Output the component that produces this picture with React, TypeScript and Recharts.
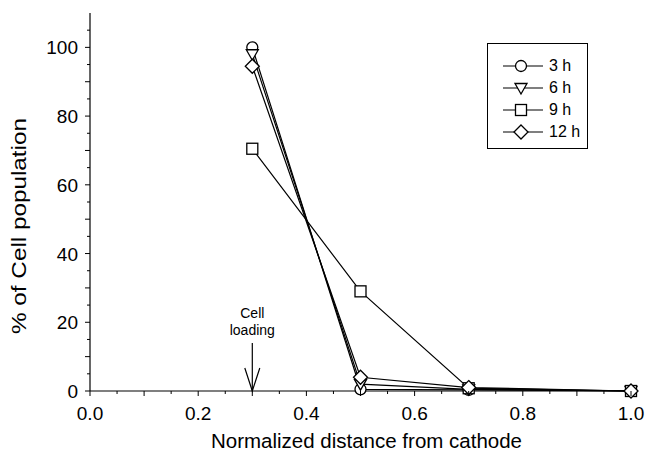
import React from "react";
import {
  LineChart,
  Line,
  XAxis,
  YAxis,
  ReferenceDot,
  Legend,
} from "recharts";

// distances from cathode (normalized) and % of cell population per time point
const distances = [0.3, 0.5, 0.7, 1.0];
const pct3h = [100, 0.5, 0.3, 0];
const pct6h = [98, 2, 0.5, 0];
const pct9h = [70.5, 29, 0.8, 0];
const pct12h = [94.5, 4, 1, 0];

const seriesNames = ["3 h", "6 h", "9 h", "12 h"];
const markerKinds = ["circle", "triangle", "square", "diamond"];

const xTicks = Array.from({ length: 21 }, (_, i) => Math.round(i * 5) / 100);
const yTicks = Array.from({ length: 22 }, (_, i) => i * 5);

const data = distances.map((d, i) => ({
  x: d,
  h3: pct3h[i],
  h6: pct6h[i],
  h9: pct9h[i],
  h12: pct12h[i],
}));

const FONT = "'Liberation Sans', Arial, sans-serif";

function Marker({ kind, cx, cy }: { kind: string; cx: number; cy: number }) {
  const st = { fill: "#fff", stroke: "#000", strokeWidth: 1.3 };
  if (kind === "circle") return <circle cx={cx} cy={cy} r={5.5} {...st} />;
  if (kind === "square")
    return <rect x={cx - 5.5} y={cy - 5.5} width={11} height={11} {...st} />;
  if (kind === "triangle")
    return (
      <path d={`M${cx - 6},${cy - 4.5} L${cx + 6},${cy - 4.5} L${cx},${cy + 6} Z`} {...st} />
    );
  return (
    <path d={`M${cx},${cy - 7} L${cx + 7},${cy} L${cx},${cy + 7} L${cx - 7},${cy} Z`} {...st} />
  );
}

function dotFor(kind: string) {
  return (p: any) => <Marker key={`${kind}-${p.index}`} kind={kind} cx={p.cx} cy={p.cy} />;
}

function XTick(props: any) {
  const { x, y, payload } = props;
  const v = Math.round(payload.value * 100);
  const major = v % 10 === 0;
  const labeled = v % 20 === 0;
  return (
    <g>
      <line x1={x} x2={x} y1={y} y2={y + (major ? 5 : 3)} stroke="#000" />
      {labeled && (
        <text x={x} y={y + 29} textAnchor="middle" fontSize={19} fontFamily={FONT} fill="#000">
          {(v / 100).toFixed(1)}
        </text>
      )}
    </g>
  );
}

function YTick(props: any) {
  const { x, y, payload } = props;
  const v = payload.value;
  const major = v % 10 === 0;
  const labeled = v % 20 === 0 && v <= 100;
  return (
    <g>
      <line x1={x - (major ? 5 : 3)} x2={x} y1={y} y2={y} stroke="#000" />
      {labeled && (
        <text x={x - 12} y={y + 7} textAnchor="end" fontSize={19} fontFamily={FONT} fill="#000">
          {v}
        </text>
      )}
    </g>
  );
}

function XTitle(props: any) {
  const vb = props.viewBox || { x: 0, width: 0 };
  return (
    <text x={vb.x + vb.width / 2 + 6} y={448} textAnchor="middle" fontSize={20.5} fontFamily={FONT} fill="#000">
      Normalized distance from cathode
    </text>
  );
}

function YTitle(props: any) {
  const vb = props.viewBox || { y: 0, height: 0 };
  const cy = vb.y + vb.height / 2 + 24;
  return (
    <text
      x={26}
      y={cy}
      transform={`rotate(-90, 26, ${cy})`}
      textAnchor="middle"
      fontSize={20}
      fontFamily={FONT}
      fill="#000"
      textLength={216}
      lengthAdjust="spacingAndGlyphs"
    >
      % of Cell population
    </text>
  );
}

function LegendBox() {
  return (
    <div
      style={{
        border: "1px solid #000",
        background: "#fff",
        width: 101,
        padding: "11px 0 5px 0",
        boxSizing: "border-box",
      }}
    >
      {seriesNames.map((n, i) => (
        <div key={n} style={{ display: "flex", alignItems: "center", height: 22 }}>
          <svg width={61} height={16} style={{ display: "block" }}>
            <line x1={15} x2={55} y1={8} y2={8} stroke="#000" strokeWidth={1.2} />
            <Marker kind={markerKinds[i]} cx={33} cy={8} />
          </svg>
          <span style={{ fontFamily: FONT, fontSize: 16, color: "#000" }}>{n}</span>
        </div>
      ))}
    </div>
  );
}

function LoadingArrow(props: any) {
  const { cx, cy } = props;
  return (
    <g>
      <line x1={cx} x2={cx} y1={cy - 48} y2={cy} stroke="#000" strokeWidth={1.2} />
      <path d={`M${cx - 7.5},${cy - 23} L${cx},${cy} L${cx + 7.5},${cy - 23}`} fill="none" stroke="#000" strokeWidth={1.2} />
      <text x={cx} y={cy - 73} textAnchor="middle" fontSize={14} fontFamily={FONT} fill="#000">
        Cell
      </text>
      <text x={cx} y={cy - 56} textAnchor="middle" fontSize={14} fontFamily={FONT} fill="#000">
        loading
      </text>
    </g>
  );
}

export default function App() {
  const keys = ["h3", "h6", "h9", "h12"];
  return (
    <div style={{ position: "absolute", left: 0, top: 0, background: "#fff" }}>
      <LineChart
        width={646}
        height={455}
        data={data}
        margin={{ top: 13, right: 15, bottom: 34, left: 50 }}
      >
        <XAxis
          dataKey="x"
          type="number"
          domain={[0, 1]}
          ticks={xTicks}
          interval={0}
          tick={<XTick />}
          tickLine={false}
          tickSize={0}
          tickMargin={0}
          axisLine={{ stroke: "#000", strokeWidth: 1.2 }}
          height={30}
          label={<XTitle />}
        />
        <XAxis xAxisId="top" orientation="top" dataKey="x" type="number" domain={[0, 1]} tick={false} tickLine={false} height={0} axisLine={{ stroke: "#000", strokeWidth: 1.2 }} />
        <YAxis
          type="number"
          domain={[0, 110]}
          ticks={yTicks}
          interval={0}
          tick={<YTick />}
          tickLine={false}
          tickSize={0}
          tickMargin={0}
          width={40}
          axisLine={{ stroke: "#000", strokeWidth: 1.2 }}
          label={<YTitle />}
        />
        <YAxis yAxisId="right" orientation="right" domain={[0, 110]} tick={false} tickLine={false} width={0} axisLine={{ stroke: "#000", strokeWidth: 1.2 }} />
        <Legend
          verticalAlign="middle"
          align="center"
          layout="vertical"
          content={() => <LegendBox />}
          wrapperStyle={{ position: "absolute", top: 43, left: 487, width: 101 }}
        />
        <ReferenceDot x={0.3} y={0} r={0} shape={<LoadingArrow />} ifOverflow="visible" />
        {keys.map((k, i) => (
          <Line
            key={k}
            dataKey={k}
            name={seriesNames[i]}
            stroke="#000"
            strokeWidth={1.2}
            dot={dotFor(markerKinds[i])}
            activeDot={false}
            isAnimationActive={false}
          />
        ))}
      </LineChart>
    </div>
  );
}
